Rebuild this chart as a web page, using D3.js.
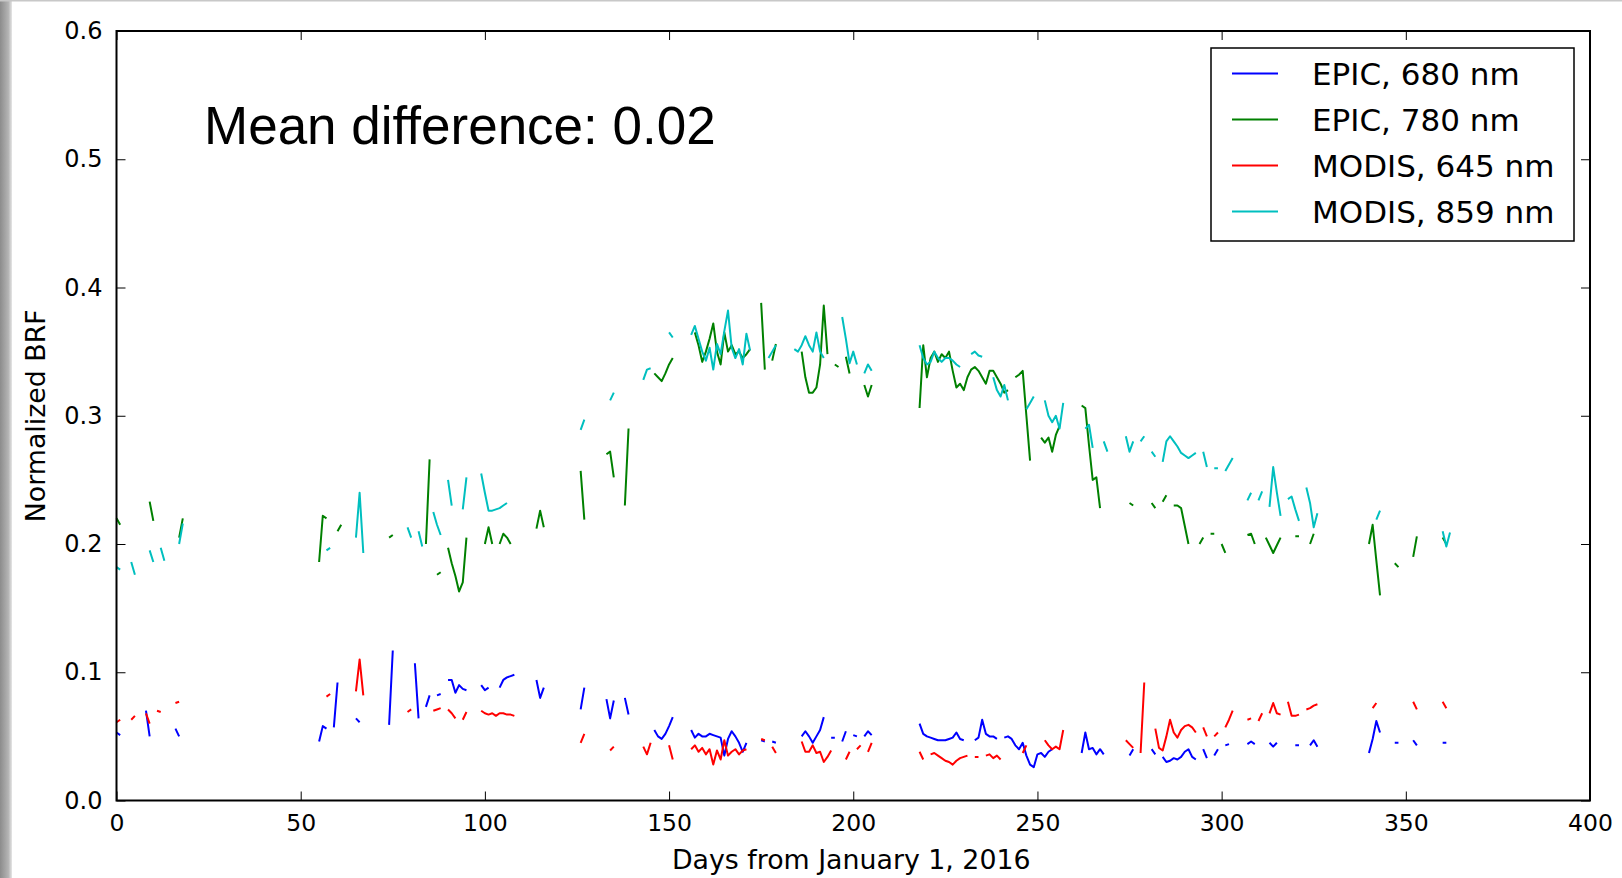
<!DOCTYPE html>
<html>
<head>
<meta charset="utf-8">
<script src="https://cdn.jsdelivr.net/npm/d3@7"></script>
<style>
    body { margin: 0; background: #fff; }
    svg { display: block; }
    .tick text { font-family: 'DejaVu Sans', sans-serif; font-size: 23.5px; fill: #000; }
    .axis-y .tick text { font-size: 24px; }
    .tick line { stroke: #000; stroke-width: 1; }
    .domain { display: none; }
    .axis-label { font-family: 'DejaVu Sans', sans-serif; font-size: 26.8px; fill: #000; }
    .legend text { font-family: 'DejaVu Sans', sans-serif; font-size: 31px; fill: #000; }
</style>
</head>
<body>
<div id="chart"></div>
<script>
// [day, normalized BRF]; gaps in the days are gaps in the line
const epic680 = [
    [0,0.053],[1,0.051],[8,0.07],[9,0.05],[16,0.056],[17,0.05],
    [55,0.046],[56,0.058],[57,0.056],[59,0.057],[60,0.092],[65,0.064],[66,0.061],
    [74,0.059],[75,0.117],[81,0.107],[82,0.064],[84,0.073],[85,0.082],[87,0.082],[88,0.083],
    [90,0.094],[91,0.094],[92,0.084],[93,0.09],[94,0.087],[95,0.086],
    [99,0.09],[100,0.086],[101,0.088],[104,0.088],[105,0.094],[106,0.096],[107,0.097],[108,0.098],
    [114,0.094],[115,0.08],[116,0.088],[126,0.071],[127,0.088],[133,0.079],[134,0.064],[135,0.078],
    [138,0.08],[139,0.067],[146,0.055],[147,0.05],[148,0.048],[149,0.052],[150,0.058],[151,0.065],
    [156,0.055],[157,0.049],[158,0.052],[159,0.05],[160,0.05],[161,0.052],[162,0.051],[163,0.05],
    [164,0.049],[165,0.035],[166,0.048],[167,0.054],[168,0.05],[169,0.045],[170,0.038],[171,0.045],
    [175,0.047],[176,0.046],[178,0.046],[179,0.045],
    [186,0.05],[187,0.054],[188,0.05],[189,0.045],[190,0.05],[191,0.055],[192,0.065],
    [194,0.049],[195,0.049],[197,0.046],[198,0.054],[200,0.051],[201,0.05],[203,0.05],[204,0.054],[205,0.051],
    [218,0.06],[219,0.052],[220,0.05],[221,0.049],[222,0.048],[223,0.047],[224,0.047],[225,0.047],
    [226,0.048],[227,0.049],[228,0.053],[229,0.048],[230,0.047],
    [233,0.047],[234,0.049],[235,0.063],[236,0.052],[237,0.05],[238,0.05],[239,0.048],
    [241,0.049],[242,0.05],[243,0.048],[244,0.043],[245,0.04],[246,0.045],[247,0.035],[248,0.028],
    [249,0.026],[250,0.036],[251,0.037],[252,0.034],[253,0.038],[254,0.04],
    [262,0.037],[263,0.053],[264,0.04],[265,0.041],[266,0.036],[267,0.04],[268,0.036],
    [275,0.035],[276,0.04],[281,0.04],[282,0.036],
    [284,0.034],[285,0.03],[286,0.031],[287,0.033],[288,0.032],[289,0.034],[290,0.038],[291,0.04],[292,0.034],[293,0.032],
    [295,0.04],[296,0.033],[298,0.035],[299,0.04],[301,0.043],[302,0.044],
    [307,0.044],[308,0.046],[309,0.044],[313,0.045],[314,0.042],[315,0.045],[320,0.043],[321,0.043],
    [324,0.043],[325,0.047],[326,0.042],
    [340,0.037],[341,0.048],[342,0.062],[343,0.053],[347,0.045],[348,0.045],[352,0.047],[353,0.043],
    [360,0.045],[361,0.045]
];

const epic780 = [
    [0,0.22],[1,0.215],[9,0.233],[10,0.218],[17,0.205],[18,0.22],
    [55,0.186],[56,0.222],[57,0.22],[60,0.21],[61,0.215],[74,0.205],[75,0.207],
    [84,0.2],[85,0.266],[87,0.176],[88,0.178],
    [90,0.197],[91,0.185],[92,0.175],[93,0.163],[94,0.17],[95,0.205],
    [100,0.2],[101,0.213],[102,0.2],[104,0.2],[105,0.208],[106,0.205],[107,0.2],
    [114,0.212],[115,0.226],[116,0.213],[126,0.257],[127,0.219],[133,0.27],[134,0.272],[135,0.252],
    [138,0.23],[139,0.29],[146,0.333],[147,0.33],[148,0.327],[149,0.333],[150,0.34],[151,0.345],
    [157,0.365],[158,0.355],[159,0.342],[160,0.35],[161,0.36],[162,0.372],[163,0.35],[164,0.34],
    [165,0.365],[166,0.35],[167,0.355],[168,0.348],[169,0.35],[170,0.345],[171,0.348],[172,0.352],
    [175,0.388],[176,0.336],[178,0.343],[179,0.356],
    [186,0.35],[187,0.33],[188,0.318],[189,0.318],[190,0.322],[191,0.34],[192,0.386],[193,0.348],
    [195,0.34],[196,0.338],[198,0.346],[199,0.333],[203,0.324],[204,0.315],[205,0.324],
    [218,0.306],[219,0.355],[220,0.33],[221,0.345],[222,0.35],[223,0.342],[224,0.348],[225,0.345],
    [226,0.35],[227,0.335],[228,0.322],[229,0.325],[230,0.32],[231,0.33],[232,0.336],[233,0.338],
    [234,0.335],[235,0.33],[236,0.325],[237,0.335],[238,0.335],[239,0.33],[240,0.325],[241,0.318],[242,0.32],
    [244,0.33],[245,0.332],[246,0.335],[247,0.3],[248,0.265],
    [251,0.283],[252,0.279],[253,0.283],[254,0.272],[255,0.285],[256,0.292],
    [262,0.308],[263,0.306],[264,0.277],[265,0.25],[266,0.252],[267,0.228],
    [275,0.232],[276,0.23],[281,0.232],[282,0.228],[284,0.233],[285,0.238],
    [287,0.23],[288,0.23],[289,0.228],[290,0.214],[291,0.2],[294,0.2],[295,0.205],[297,0.208],[298,0.208],
    [300,0.2],[301,0.193],[307,0.207],[308,0.208],[309,0.2],
    [312,0.205],[313,0.199],[314,0.193],[315,0.199],[316,0.205],[320,0.206],[321,0.206],[324,0.2],[325,0.208],
    [340,0.2],[341,0.215],[342,0.187],[343,0.16],[347,0.185],[348,0.182],[352,0.19],[353,0.206],
    [360,0.205],[361,0.2]
];

const modis645 = [
    [0,0.061],[1,0.063],[4,0.063],[5,0.066],[8,0.068],[9,0.06],[11,0.07],[12,0.069],[16,0.076],[17,0.077],
    [57,0.081],[58,0.083],[65,0.085],[66,0.11],[67,0.082],[79,0.069],[80,0.071],
    [86,0.07],[87,0.071],[88,0.072],[90,0.071],[91,0.068],[92,0.064],[94,0.063],[95,0.069],
    [99,0.07],[100,0.068],[101,0.067],[102,0.068],[103,0.066],[104,0.068],[105,0.068],[106,0.067],[107,0.067],[108,0.066],
    [126,0.045],[127,0.052],[134,0.039],[135,0.042],[143,0.042],[144,0.036],[145,0.045],[150,0.043],[151,0.032],
    [156,0.04],[157,0.043],[158,0.038],[159,0.041],[160,0.036],[161,0.04],[162,0.028],[163,0.039],
    [164,0.032],[165,0.047],[166,0.035],[167,0.038],[168,0.04],[169,0.036],[170,0.039],[171,0.04],
    [175,0.048],[176,0.047],[178,0.042],[179,0.037],
    [186,0.046],[187,0.038],[188,0.038],[189,0.043],[190,0.037],[191,0.038],[192,0.03],[193,0.034],[194,0.039],
    [198,0.032],[199,0.038],[201,0.04],[202,0.043],[204,0.038],[205,0.045],
    [218,0.038],[219,0.032],[221,0.036],[222,0.037],[223,0.035],[224,0.033],[225,0.031],[226,0.03],
    [227,0.028],[228,0.031],[229,0.033],[230,0.034],[231,0.035],[233,0.034],[234,0.034],
    [236,0.035],[237,0.036],[238,0.033],[239,0.035],[240,0.032],[246,0.037],[247,0.043],
    [252,0.047],[253,0.043],[254,0.04],[255,0.042],[256,0.04],[257,0.055],
    [274,0.047],[275,0.044],[276,0.041],[278,0.037],[279,0.092],
    [282,0.056],[283,0.041],[284,0.039],[285,0.05],[286,0.063],[287,0.053],[288,0.049],[289,0.055],
    [290,0.058],[291,0.059],[292,0.057],[293,0.053],[295,0.057],[296,0.05],[298,0.05],[299,0.053],
    [301,0.057],[302,0.063],[303,0.07],[307,0.063],[308,0.064],[310,0.062],[311,0.068],
    [313,0.068],[314,0.076],[315,0.068],[316,0.067],[318,0.077],[319,0.066],[320,0.066],[321,0.067],
    [323,0.071],[324,0.072],[325,0.074],[326,0.075],
    [341,0.072],[342,0.076],[352,0.077],[353,0.071],[360,0.077],[361,0.072]
];

const modis859 = [
    [0,0.182],[1,0.18],[4,0.186],[5,0.176],[9,0.195],[10,0.186],[12,0.197],[13,0.187],[17,0.2],[18,0.216],
    [57,0.195],[58,0.197],[65,0.205],[66,0.24],[67,0.193],[79,0.213],[80,0.205],[82,0.21],[83,0.198],
    [86,0.225],[87,0.215],[88,0.207],[90,0.25],[91,0.23],[94,0.227],[95,0.252],
    [99,0.255],[100,0.24],[101,0.226],[102,0.226],[103,0.227],[104,0.228],[105,0.23],[106,0.232],
    [126,0.289],[127,0.297],[134,0.312],[135,0.318],[143,0.328],[144,0.336],[145,0.337],[150,0.365],[151,0.361],
    [156,0.363],[157,0.37],[158,0.36],[159,0.35],[160,0.343],[161,0.353],[162,0.336],[163,0.356],
    [164,0.348],[165,0.366],[166,0.382],[167,0.353],[168,0.345],[169,0.352],[170,0.34],[171,0.364],[172,0.351],
    [177,0.345],[178,0.35],[179,0.355],
    [184,0.352],[185,0.35],[186,0.355],[187,0.362],[188,0.355],[189,0.35],[190,0.365],[191,0.35],[192,0.345],
    [197,0.377],[198,0.36],[199,0.341],[200,0.35],[201,0.34],[203,0.333],[204,0.34],[205,0.335],
    [218,0.355],[219,0.345],[220,0.34],[221,0.342],[222,0.35],[223,0.345],[224,0.342],[225,0.345],
    [226,0.345],[227,0.343],[228,0.34],[229,0.338],[232,0.348],[233,0.35],[234,0.347],[235,0.346],
    [238,0.33],[239,0.32],[240,0.315],[241,0.324],[242,0.312],[247,0.305],[248,0.31],[249,0.315],
    [252,0.312],[253,0.3],[254,0.295],[255,0.3],[256,0.29],[257,0.31],[263,0.29],[264,0.293],[265,0.275],
    [268,0.28],[269,0.272],[274,0.284],[275,0.272],[276,0.28],[278,0.28],[279,0.284],[281,0.272],[282,0.268],
    [284,0.264],[285,0.28],[286,0.284],[287,0.28],[288,0.276],[289,0.271],[290,0.269],[291,0.267],[292,0.269],[293,0.271],
    [295,0.272],[296,0.26],[298,0.259],[299,0.259],[301,0.257],[302,0.262],[303,0.267],
    [307,0.234],[308,0.24],[310,0.234],[311,0.241],[313,0.229],[314,0.26],[315,0.24],[316,0.222],
    [318,0.235],[319,0.237],[320,0.227],[321,0.218],[323,0.244],[324,0.232],[325,0.213],[326,0.224],
    [342,0.219],[343,0.226],[360,0.21],[361,0.198],[362,0.209]
];

const seriesNames = ['EPIC, 680 nm', 'EPIC, 780 nm', 'MODIS, 645 nm', 'MODIS, 859 nm'];
const seriesColors = ['#0000ff', '#008000', '#ff0000', '#00bfbf'];
const xTicks = [0, 50, 100, 150, 200, 250, 300, 350, 400];
const yTicks = [0.0, 0.1, 0.2, 0.3, 0.4, 0.5, 0.6];

class brf_chart {
    constructor(series) {
        this.series = series;
        this.width = 1622;
        this.height = 878;
        this.margin = { l: 116.5, r: 32, t: 31, b: 77.5 };

        this.scaleX = d3.scaleLinear()
            .domain([0, 400])
            .range([this.margin.l, this.width - this.margin.r]);
        this.scaleY = d3.scaleLinear()
            .domain([0, 0.6])
            .range([this.height - this.margin.b, this.margin.t]);

        this.svg = d3.select('#chart')
            .append('svg')
            .attr('width', this.width)
            .attr('height', this.height);

        this.drawFrameShade();
        this.drawLines();
        this.drawAxes();
        this.drawLegend();
    }

    drawFrameShade() {
        // grey edge of the screenshot on the left
        const grad = this.svg.append('defs')
            .append('linearGradient')
            .attr('id', 'edge')
            .attr('x1', 0).attr('x2', 1).attr('y1', 0).attr('y2', 0);
        grad.append('stop').attr('offset', '0%').attr('stop-color', '#8c8c8c');
        grad.append('stop').attr('offset', '70%').attr('stop-color', '#b4b4b4');
        grad.append('stop').attr('offset', '100%').attr('stop-color', '#e6e6e6');
        this.svg.append('rect')
            .attr('x', 0).attr('y', 0)
            .attr('width', 12).attr('height', this.height)
            .style('fill', 'url(#edge)');
        this.svg.append('rect')
            .attr('x', 0).attr('y', 0)
            .attr('width', this.width).attr('height', 1.5)
            .style('fill', '#c8c8c8');
    }

    withBreaks(points) {
        const out = [];
        points.forEach((p, i) => {
            if (i > 0 && p[0] - points[i - 1][0] > 1) out.push(null);
            out.push(p);
        });
        return out;
    }

    drawLines() {
        const line = d3.line()
            .defined(d => d !== null)
            .x(d => this.scaleX(d[0]))
            .y(d => this.scaleY(d[1]));

        this.svg.append('g')
            .attr('class', 'lines')
            .selectAll('path')
            .data(this.series)
            .join('path')
            .attr('d', d => line(this.withBreaks(d)))
            .style('fill', 'none')
            .style('stroke', (d, i) => seriesColors[i])
            .style('stroke-width', 2)
            .style('stroke-linejoin', 'round');

        this.svg.append('text')
            .attr('x', 204)
            .attr('y', 143.5)
            .style('font-family', "'Liberation Sans', Arial, sans-serif")
            .style('font-size', '53px')
            .style('fill', '#000')
            .text('Mean difference: 0.02');
    }

    drawAxes() {
        const x0 = this.margin.l;
        const x1 = this.width - this.margin.r;
        const y0 = this.height - this.margin.b;
        const y1 = this.margin.t;
        const tick = 9;

        this.svg.append('g')
            .attr('class', 'axis axis-x')
            .attr('transform', `translate(0, ${y0})`)
            .call(d3.axisBottom(this.scaleX).tickValues(xTicks).tickSize(-tick).tickPadding(12)
                .tickFormat(d3.format('d')));
        this.svg.append('g')
            .attr('class', 'axis axis-x-top')
            .attr('transform', `translate(0, ${y1})`)
            .call(d3.axisTop(this.scaleX).tickValues(xTicks).tickSize(-tick).tickFormat(''));
        this.svg.append('g')
            .attr('class', 'axis axis-y')
            .attr('transform', `translate(${x0}, 0)`)
            .call(d3.axisLeft(this.scaleY).tickValues(yTicks).tickSize(-tick).tickPadding(14)
                .tickFormat(d3.format('.1f')));
        this.svg.append('g')
            .attr('class', 'axis axis-y-right')
            .attr('transform', `translate(${x1}, 0)`)
            .call(d3.axisRight(this.scaleY).tickValues(yTicks).tickSize(-tick).tickFormat(''));

        this.svg.selectAll('.axis-x .tick text').attr('dy', '0.78em');

        this.svg.append('rect')
            .attr('x', x0).attr('y', y1)
            .attr('width', x1 - x0).attr('height', y0 - y1)
            .style('fill', 'none')
            .style('stroke', '#000')
            .style('stroke-width', 2);

        this.svg.append('text')
            .attr('class', 'axis-label')
            .attr('x', (x0 + x1) / 2 - 2)
            .attr('y', 869)
            .attr('text-anchor', 'middle')
            .text('Days from January 1, 2016');

        this.svg.append('text')
            .attr('class', 'axis-label')
            .attr('transform', `translate(45, ${(y0 + y1) / 2}) rotate(-90)`)
            .attr('text-anchor', 'middle')
            .text('Normalized BRF');
    }

    drawLegend() {
        const legend = this.svg.append('g').attr('class', 'legend');
        legend.append('rect')
            .attr('x', 1211).attr('y', 48)
            .attr('width', 363).attr('height', 193)
            .style('fill', '#fff')
            .style('stroke', '#000')
            .style('stroke-width', 1.5);

        const rows = legend.selectAll('.row')
            .data(seriesNames)
            .join('g')
            .attr('class', 'row')
            .attr('transform', (d, i) => `translate(0, ${73.5 + i * 46})`);
        rows.append('line')
            .attr('x1', 1232).attr('x2', 1278)
            .style('stroke', (d, i) => seriesColors[i])
            .style('stroke-width', 2);
        rows.append('text')
            .attr('x', 1312)
            .attr('dy', '0.36em')
            .text(d => d);
    }
}

new brf_chart([epic680, epic780, modis645, modis859]);
</script>
</body>
</html>
